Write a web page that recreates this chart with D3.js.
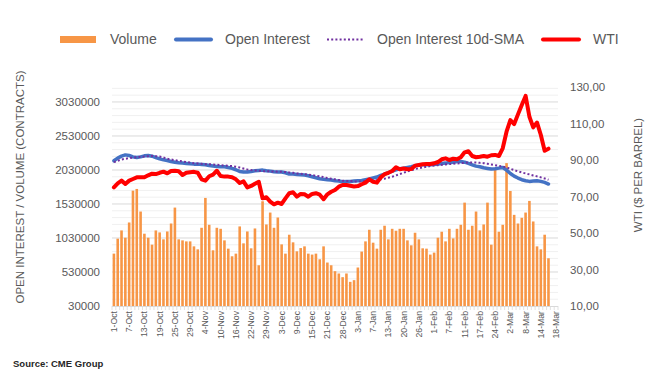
<!DOCTYPE html>
<html>
<head>
<meta charset="utf-8">
<script src="https://cdn.jsdelivr.net/npm/d3@7"></script>
<style>
    body { margin: 0; background: #fff; }
    text { font-family: "Liberation Sans", Arial, sans-serif; fill: #595959; }
</style>
</head>
<body>
<svg id="chart" width="667" height="384"></svg>
<script>
// trading days, 1-Oct-2021 .. 18-Mar-2022
const dates = ('1-Oct 4-Oct 5-Oct 6-Oct 7-Oct 8-Oct 11-Oct 12-Oct 13-Oct 14-Oct 15-Oct 18-Oct 19-Oct 20-Oct 21-Oct 22-Oct 25-Oct 26-Oct 27-Oct 28-Oct 29-Oct ' +
    '1-Nov 2-Nov 3-Nov 4-Nov 5-Nov 8-Nov 9-Nov 10-Nov 11-Nov 12-Nov 15-Nov 16-Nov 17-Nov 18-Nov 19-Nov 22-Nov 23-Nov 24-Nov 26-Nov 29-Nov 30-Nov ' +
    '1-Dec 2-Dec 3-Dec 6-Dec 7-Dec 8-Dec 9-Dec 10-Dec 13-Dec 14-Dec 15-Dec 16-Dec 17-Dec 20-Dec 21-Dec 22-Dec 23-Dec 27-Dec 28-Dec 29-Dec 30-Dec 31-Dec ' +
    '3-Jan 4-Jan 5-Jan 6-Jan 7-Jan 10-Jan 11-Jan 12-Jan 13-Jan 14-Jan 18-Jan 19-Jan 20-Jan 21-Jan 24-Jan 25-Jan 26-Jan 27-Jan 28-Jan 31-Jan ' +
    '1-Feb 2-Feb 3-Feb 4-Feb 7-Feb 8-Feb 9-Feb 10-Feb 11-Feb 14-Feb 15-Feb 16-Feb 17-Feb 18-Feb 22-Feb 23-Feb 24-Feb 25-Feb 28-Feb ' +
    '1-Mar 2-Mar 3-Mar 4-Mar 7-Mar 8-Mar 9-Mar 10-Mar 11-Mar 14-Mar 15-Mar 16-Mar 17-Mar 18-Mar').split(' ')

const volume = [800000, 1020000, 1141000, 1034000, 1258000, 1726000, 1751000, 1419000, 1093000, 1034000,
    932000, 1141000, 1112000, 1010000, 1126000, 1243000, 1477000, 1010000, 995000, 980000,
    980000, 907000, 863000, 1180000, 1619000, 1224000, 849000, 1180000, 1165000, 995000,
    873000, 761000, 800000, 1200000, 951000, 1126000, 878000, 1170000, 629000, 1570000,
    1229000, 1404000, 1180000, 1331000, 936000, 800000, 1078000, 966000, 834000, 882000,
    907000, 800000, 786000, 800000, 717000, 907000, 669000, 629000, 542000, 508000,
    454000, 508000, 385000, 410000, 596000, 830000, 980000, 1151000, 961000, 873000,
    1151000, 1210000, 1010000, 1165000, 1136000, 1165000, 1165000, 995000, 922000, 1107000,
    1010000, 878000, 873000, 786000, 815000, 1034000, 1122000, 980000, 1165000, 1024000,
    1165000, 1224000, 1550000, 1151000, 1210000, 1419000, 1141000, 1229000, 1550000, 932000,
    2033000, 1122000, 1224000, 2131000, 1721000, 1370000, 1243000, 1327000, 1404000, 1575000,
    1273000, 907000, 863000, 1078000, 732000]

const openInterest = [2165000, 2204000, 2233000, 2252000, 2243000, 2223000, 2213000, 2223000, 2238000, 2243000,
    2233000, 2213000, 2194000, 2179000, 2170000, 2155000, 2145000, 2136000, 2131000, 2126000,
    2121000, 2116000, 2116000, 2111000, 2106000, 2096000, 2087000, 2082000, 2077000, 2077000,
    2067000, 2053000, 2033000, 2008000, 1999000, 1999000, 2008000, 2018000, 2023000, 2028000,
    2018000, 2013000, 2004000, 1999000, 1999000, 1989000, 1970000, 1970000, 1965000, 1960000,
    1955000, 1945000, 1930000, 1916000, 1901000, 1892000, 1887000, 1882000, 1872000, 1867000,
    1857000, 1862000, 1862000, 1867000, 1872000, 1877000, 1887000, 1897000, 1911000, 1926000,
    1950000, 1970000, 1989000, 2013000, 2033000, 2048000, 2057000, 2067000, 2077000, 2092000,
    2101000, 2106000, 2106000, 2106000, 2111000, 2116000, 2126000, 2131000, 2140000, 2145000,
    2155000, 2155000, 2145000, 2126000, 2106000, 2087000, 2077000, 2062000, 2053000, 2043000,
    2048000, 2057000, 2067000, 2028000, 1979000, 1940000, 1911000, 1887000, 1872000, 1862000,
    1867000, 1872000, 1862000, 1847000, 1823000]

const oiSma = [2145000, 2165000, 2184000, 2194000, 2204000, 2213000, 2218000, 2223000, 2228000, 2233000,
    2238000, 2233000, 2228000, 2213000, 2194000, 2184000, 2174000, 2165000, 2155000, 2145000,
    2140000, 2130000, 2126000, 2121000, 2116000, 2116000, 2111000, 2106000, 2101000, 2096000,
    2091000, 2087000, 2077000, 2067000, 2052000, 2038000, 2028000, 2023000, 2018000, 2013000,
    2013000, 2009000, 2009000, 2004000, 2004000, 1999000, 1994000, 1989000, 1979000, 1975000,
    1970000, 1960000, 1955000, 1945000, 1936000, 1926000, 1911000, 1901000, 1892000, 1882000,
    1872000, 1867000, 1867000, 1862000, 1862000, 1862000, 1867000, 1872000, 1877000, 1882000,
    1892000, 1901000, 1916000, 1931000, 1950000, 1970000, 1989000, 2009000, 2028000, 2043000,
    2057000, 2067000, 2077000, 2087000, 2096000, 2101000, 2106000, 2111000, 2116000, 2121000,
    2126000, 2130000, 2135000, 2140000, 2140000, 2140000, 2135000, 2130000, 2121000, 2111000,
    2101000, 2091000, 2082000, 2067000, 2048000, 2028000, 2009000, 1994000, 1979000, 1965000,
    1950000, 1936000, 1921000, 1906000, 1887000]

const wti = [75.0, 77.2, 78.7, 76.9, 78.7, 79.6, 80.5, 80.5, 80.5, 81.6,
    82.5, 82.3, 83.0, 83.6, 82.7, 84.0, 84.1, 83.8, 81.8, 83.0,
    83.3, 83.5, 83.0, 79.4, 78.7, 81.1, 82.0, 84.1, 81.2, 80.9,
    80.9, 80.5, 79.4, 77.4, 78.3, 75.0, 75.8, 77.0, 78.1, 69.0,
    69.6, 67.2, 65.7, 66.6, 65.9, 69.0, 71.8, 72.3, 69.9, 71.4,
    71.2, 69.9, 71.4, 71.8, 71.0, 68.5, 71.2, 72.6, 73.6, 75.4,
    76.3, 76.3, 75.9, 75.5, 75.7, 76.7, 77.6, 79.4, 78.1, 77.6,
    80.5, 82.2, 83.0, 84.0, 86.0, 84.9, 85.3, 84.9, 85.1, 86.9,
    87.3, 87.7, 87.8, 87.8, 88.2, 88.9, 90.4, 90.9, 90.0, 90.7,
    90.4, 91.5, 94.2, 94.8, 92.2, 91.5, 91.8, 92.2, 91.8, 92.6,
    92.8, 92.2, 96.4, 105.5, 111.9, 109.7, 115.0, 120.1, 125.1, 113.7,
    107.9, 110.5, 103.7, 95.1, 96.2]

const leftTicks = [30000, 530000, 1030000, 1530000, 2030000, 2530000, 3030000]
const rightTicks = [10, 30, 50, 70, 90, 110, 130]
const seriesNames = ['Volume', 'Open Interest', 'Open Interest 10d-SMA', 'WTI']

const svg = d3.select('#chart')
const plotLeft = 112, plotRight = 558, plotTop = 87, plotBottom = 306

let xScale = d3.scaleBand()
    .domain(dates)
    .range([plotLeft, plotRight])
    .paddingInner(0.32)
    .paddingOuter(0.16)
let yLeft = d3.scaleLinear()
    .domain([30000, 3250000])
    .range([plotBottom, plotTop])
let yRight = d3.scaleLinear()
    .domain([10, 130])
    .range([plotBottom, plotTop])
let xMid = i => xScale(dates[i]) + xScale.bandwidth() / 2

//minor and major gridlines
svg.append('g')
    .selectAll('line')
    .data(d3.range(130000, 3250000, 100000).filter(v => !leftTicks.includes(v)))
    .enter()
    .append('line')
    .attr('x1', plotLeft).attr('x2', plotRight)
    .attr('y1', d => yLeft(d)).attr('y2', d => yLeft(d))
    .style('stroke', '#f0f0f0')
    .style('stroke-width', 1)
svg.append('g')
    .selectAll('line')
    .data(leftTicks.slice(1))
    .enter()
    .append('line')
    .attr('x1', plotLeft).attr('x2', plotRight)
    .attr('y1', d => yLeft(d)).attr('y2', d => yLeft(d))
    .style('stroke', '#d9d9d9')
    .style('stroke-width', 1)

//volume bars
svg.append('g')
    .selectAll('rect')
    .data(volume)
    .enter()
    .append('rect')
    .attr('x', (d, i) => xScale(dates[i]))
    .attr('width', xScale.bandwidth())
    .attr('y', d => yLeft(d))
    .attr('height', d => yLeft(30000) - yLeft(d))
    .style('fill', '#f79646')

//x axis line and category tick marks
let xAxis = svg.append('g')
xAxis.append('line')
    .attr('x1', plotLeft).attr('x2', plotRight)
    .attr('y1', plotBottom + 0.5).attr('y2', plotBottom + 0.5)
    .style('stroke', '#d9d9d9')
xAxis.selectAll('.tick')
    .data(d3.range(dates.length + 1))
    .enter()
    .append('line')
    .attr('x1', i => plotLeft + i * xScale.step())
    .attr('x2', i => plotLeft + i * xScale.step())
    .attr('y1', plotBottom)
    .attr('y2', plotBottom + 4)
    .style('stroke', '#d9d9d9')
    .style('stroke-width', 0.8)
xAxis.selectAll('.label')
    .data(dates.filter((d, i) => i % 4 === 0))
    .enter()
    .append('text')
    .attr('transform', d => `translate(${xScale(d) + xScale.bandwidth() / 2}, ${plotBottom + 5}) rotate(-90)`)
    .attr('text-anchor', 'end')
    .attr('dy', '0.35em')
    .style('font-size', '8.7px')
    .text(d => d)

//lines
let oiLine = d3.line().x((d, i) => xMid(i)).y(d => yLeft(d))
let wtiLine = d3.line().x((d, i) => xMid(i)).y(d => yRight(d))
svg.append('path')
    .attr('d', oiLine(openInterest))
    .style('fill', 'none')
    .style('stroke', '#4472c4')
    .style('stroke-width', 3.5)
    .style('stroke-linejoin', 'round')
    .style('stroke-linecap', 'round')
svg.append('path')
    .attr('d', oiLine(oiSma))
    .style('fill', 'none')
    .style('stroke', '#7030a0')
    .style('stroke-width', 2)
    .style('stroke-dasharray', '2 2.2')
svg.append('path')
    .attr('d', wtiLine(wti))
    .style('fill', 'none')
    .style('stroke', '#ff0000')
    .style('stroke-width', 4)
    .style('stroke-linejoin', 'round')
    .style('stroke-linecap', 'round')

//left axis labels
svg.append('g')
    .selectAll('text')
    .data(leftTicks)
    .enter()
    .append('text')
    .attr('x', 100)
    .attr('y', d => yLeft(d))
    .attr('dy', '0.35em')
    .attr('text-anchor', 'end')
    .style('font-size', '11.5px')
    .text(d => d)
//right axis labels
svg.append('g')
    .selectAll('text')
    .data(rightTicks)
    .enter()
    .append('text')
    .attr('x', 570)
    .attr('y', d => yRight(d))
    .attr('dy', '0.35em')
    .style('font-size', '11.5px')
    .text(d => d3.format('.2f')(d).replace('.', ','))

//axis titles
svg.append('text')
    .attr('transform', `translate(${20}, ${187}) rotate(-90)`)
    .attr('text-anchor', 'middle')
    .attr('dy', '0.35em')
    .style('font-size', '11.5px')
    .text('OPEN INTEREST / VOLUME (CONTRACTS)')
svg.append('text')
    .attr('transform', `translate(${638}, ${175}) rotate(-90)`)
    .attr('text-anchor', 'middle')
    .attr('dy', '0.35em')
    .style('font-size', '11.5px')
    .text('WTI ($ PER BARREL)')

//legend
let legend = svg.append('g')
legend.append('rect')
    .attr('x', 60).attr('y', 36)
    .attr('width', 36).attr('height', 7)
    .style('fill', '#f79646')
legend.append('line')
    .attr('x1', 176).attr('x2', 211).attr('y1', 39.5).attr('y2', 39.5)
    .style('stroke', '#4472c4').style('stroke-width', 4).style('stroke-linecap', 'round')
legend.append('line')
    .attr('x1', 327).attr('x2', 364).attr('y1', 39.5).attr('y2', 39.5)
    .style('stroke', '#7030a0').style('stroke-width', 2).style('stroke-dasharray', '2 2.2')
legend.append('line')
    .attr('x1', 543).attr('x2', 579).attr('y1', 39.5).attr('y2', 39.5)
    .style('stroke', '#ff0000').style('stroke-width', 4).style('stroke-linecap', 'round')
legend.selectAll('text')
    .data(seriesNames)
    .enter()
    .append('text')
    .attr('x', (d, i) => [110, 225, 377, 593][i])
    .attr('y', 39.5)
    .attr('dy', '0.35em')
    .style('font-size', '14px')
    .text(d => d)

//source
svg.append('text')
    .attr('x', 13)
    .attr('y', 367)
    .style('font-size', '9.5px')
    .style('font-weight', 'bold')
    .style('fill', '#262626')
    .text('Source: CME Group')
</script>
</body>
</html>
